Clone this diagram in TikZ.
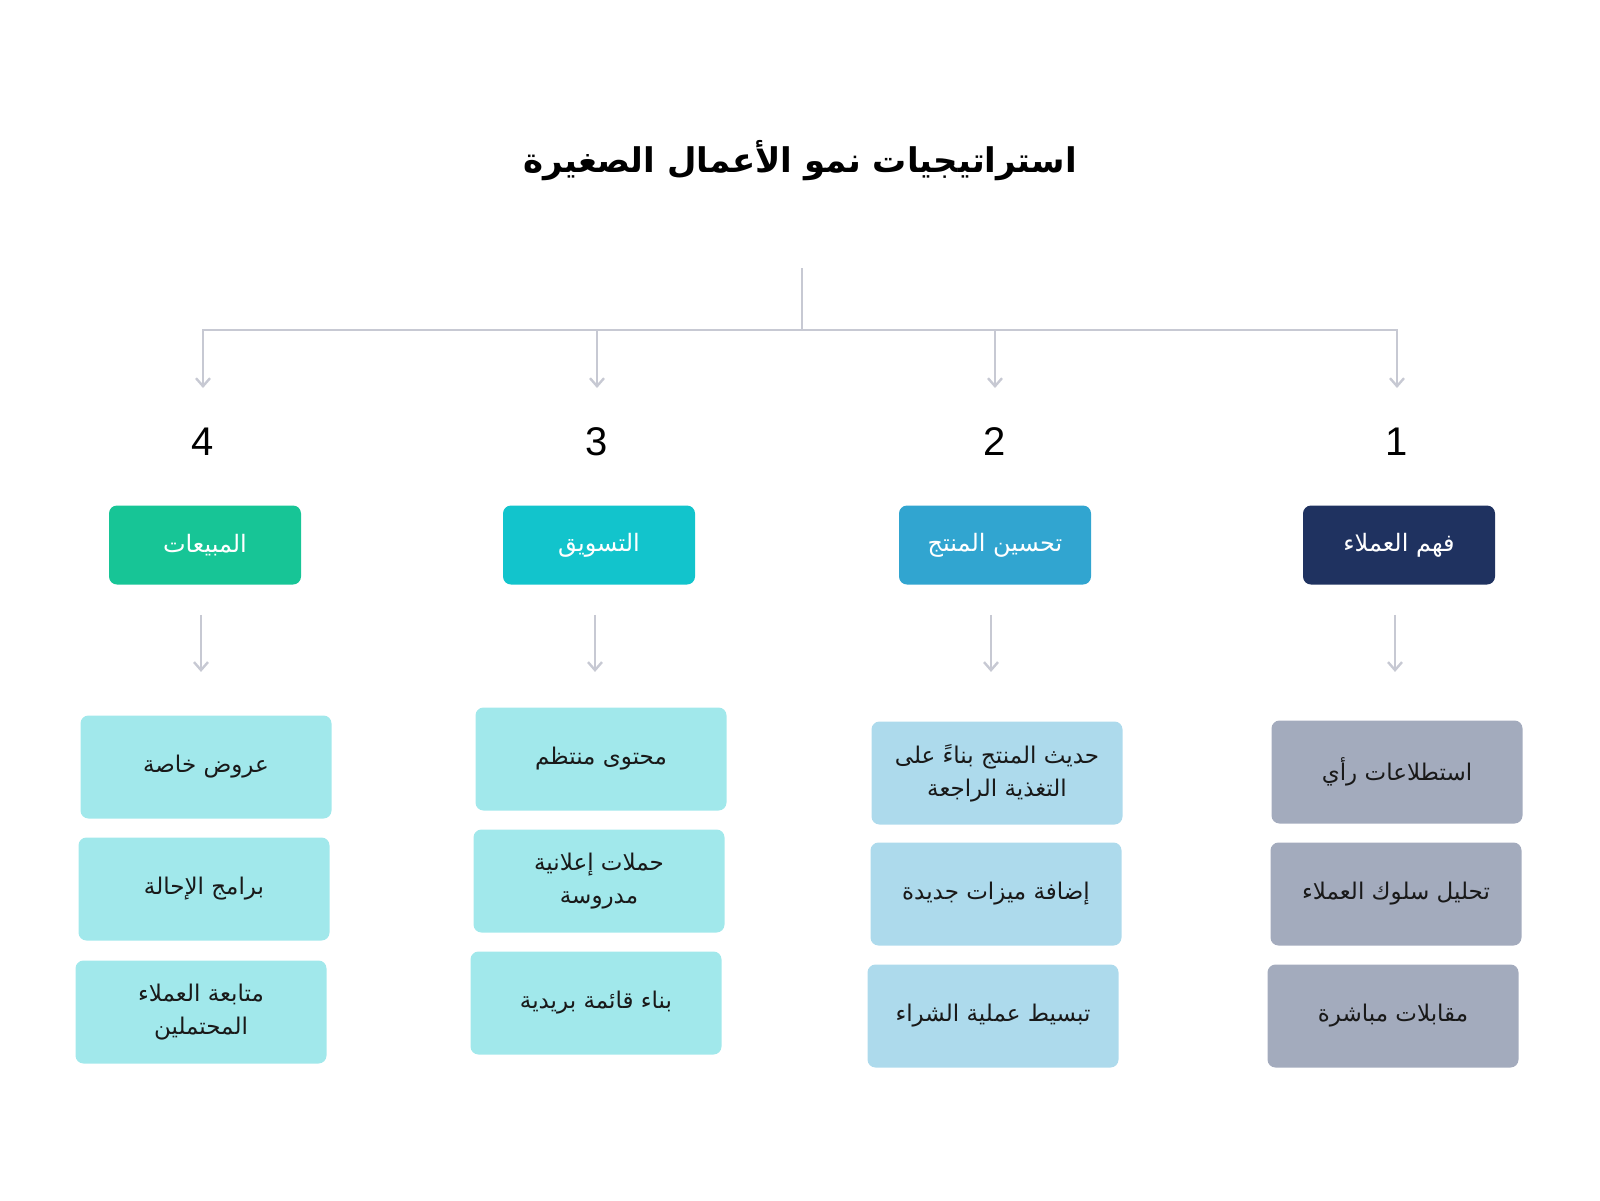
\documentclass[tikz,border=0pt]{standalone}
\usepackage{fontspec}
\usepackage{tikz}
\usetikzlibrary{arrows.meta}
\setmainfont{Liberation Sans}
\newfontfamily\arabicfont[Script=Arabic]{DejaVu Sans}
\TeXXeTstate=1
\newcommand{\artxt}[1]{{\arabicfont\beginR#1\endR}}

\definecolor{navy}{HTML}{1F3260}
\definecolor{skyblue}{HTML}{31A5D0}
\definecolor{teal}{HTML}{12C4CC}
\definecolor{mint}{HTML}{17C596}
\definecolor{slate}{HTML}{A3ABBD}
\definecolor{paleblue}{HTML}{ADDAEC}
\definecolor{palecyan}{HTML}{A1E8EB}
\definecolor{linegray}{HTML}{C7C9D3}

\begin{document}
\begin{tikzpicture}[x=0.5pt, y=-0.5pt, >={Straight Barb[length=4pt, width=7pt]},
	lnk/.style={draw=linegray, line width=1.2pt},
	hdr/.style={rounded corners=4pt, minimum width=96pt, minimum height=39.5pt, text=white, font=\fontsize{12}{14}\selectfont},
	item/.style={rounded corners=4pt, minimum width=125.5pt, minimum height=51.5pt, align=center, text=black!90, font=\fontsize{11.5}{16.5}\selectfont},
	num/.style={font=\fontsize{20}{24}\selectfont}]
	\useasboundingbox (0, 0) rectangle (1600, 1200);

	\node (title) at (800, 161) {\artxt{\fontsize{17}{22}\selectfont\bfseries استراتيجيات نمو الأعمال الصغيرة}};

	\coordinate (root) at (802, 268);
	\coordinate (junc) at (802, 330);
	\draw[lnk] (root) -- (junc);

	% numbers and headers, right to left
	\node[num] (n1) at (1397, 442) {1};
	\node[num] (n2) at (995, 442) {2};
	\node[num] (n3) at (597, 442) {3};
	\node[num] (n4) at (203, 442) {4};

	\node[hdr, fill=navy] (h1) at (1399, 545) {\artxt{فهم العملاء}};
	\node[hdr, fill=skyblue] (h2) at (995, 545) {\artxt{تحسين المنتج}};
	\node[hdr, fill=teal] (h3) at (599, 545) {\artxt{التسويق}};
	\node[hdr, fill=mint] (h4) at (205, 545) {\artxt{المبيعات}};

	\foreach \i in {1,...,4} {
		\coordinate (tip\i) at ([yshift=27pt]n\i.center);
		\draw[lnk, ->] (junc) -| (tip\i);
	}

	% detail boxes
	\node[item, fill=slate] (d1a) at (1397, 772) {\artxt{استطلاعات رأي}};
	\node[item, fill=slate] (d1b) at (1396, 894) {\artxt{تحليل سلوك العملاء}};
	\node[item, fill=slate] (d1c) at (1393, 1016) {\artxt{مقابلات مباشرة}};

	\node[item, fill=paleblue] (d2a) at (997, 773) {\artxt{حديث المنتج بناءً على}\\\artxt{التغذية الراجعة}};
	\node[item, fill=paleblue] (d2b) at (996, 894) {\artxt{إضافة ميزات جديدة}};
	\node[item, fill=paleblue] (d2c) at (993, 1016) {\artxt{تبسيط عملية الشراء}};

	\node[item, fill=palecyan] (d3a) at (601, 759) {\artxt{محتوى منتظم}};
	\node[item, fill=palecyan] (d3b) at (599, 881) {\artxt{حملات إعلانية}\\\artxt{مدروسة}};
	\node[item, fill=palecyan] (d3c) at (596, 1003) {\artxt{بناء قائمة بريدية}};

	\node[item, fill=palecyan] (d4a) at (206, 767) {\artxt{عروض خاصة}};
	\node[item, fill=palecyan] (d4b) at (204, 889) {\artxt{برامج الإحالة}};
	\node[item, fill=palecyan] (d4c) at (201, 1012) {\artxt{متابعة العملاء}\\\artxt{المحتملين}};

	\foreach \i in {1,...,4} {
		\coordinate (a\i) at ([shift={(-4, 87)}]h\i.south);
		\draw[lnk, ->, shorten <=15pt] ([xshift=-2pt]h\i.south) -- (a\i);
	}
\end{tikzpicture}
\end{document}
